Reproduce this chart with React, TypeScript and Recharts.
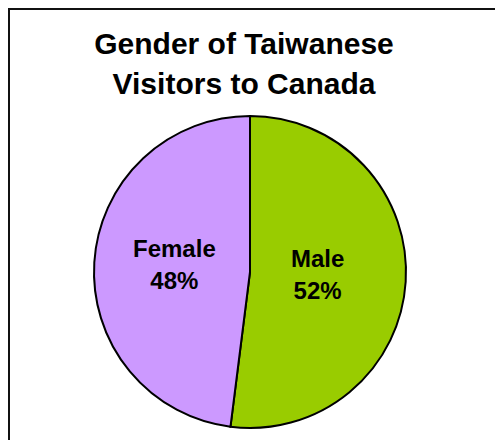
import React from "react";
import { PieChart, Pie, Cell } from "recharts";

const titleLines = ["Gender of Taiwanese", "Visitors to Canada"];
const categories = ["Male", "Female"];
const shares = [52, 48];
const colors = ["#99CC00", "#CC99FF"];

const data = categories.map((name, i) => ({ name, value: shares[i] }));

const RAD = Math.PI / 180;
const FONT = "'Liberation Sans', Arial, sans-serif";

const renderLabel = (props: any) => {
  const { cx, cy, midAngle, outerRadius, name, percent } = props;
  const r = outerRadius * 0.46;
  const x = cx + r * Math.cos(-midAngle * RAD) - 4;
  const y = cy + r * Math.sin(-midAngle * RAD) - 2;
  return (
    <text
      x={x}
      y={y}
      textAnchor="middle"
      fill="#000"
      fontFamily={FONT}
      fontWeight="bold"
      fontSize={24}
    >
      <tspan x={x} y={y - 8}>{name}</tspan>
      <tspan x={x} y={y + 24}>{`${Math.round(percent * 100)}%`}</tspan>
    </text>
  );
};

export default function App() {
  return (
    <div
      style={{
        width: 520,
        height: 460,
        borderLeft: "2px solid #111",
        borderTop: "2px solid #111",
        boxSizing: "border-box",
        background: "#fff",
      }}
    >
      <PieChart width={510} height={450} margin={{ top: 0, right: 0, bottom: 0, left: 0 }}>
        <text
          x={234}
          textAnchor="middle"
          fontFamily={FONT}
          fontWeight="bold"
          fontSize={30}
          fill="#000"
        >
          <tspan x={234} y={44}>{titleLines[0]}</tspan>
          <tspan x={234} y={84}>{titleLines[1]}</tspan>
        </text>
        <Pie
          data={data}
          dataKey="value"
          nameKey="name"
          cx={240}
          cy={262}
          outerRadius={156}
          startAngle={90}
          endAngle={-270}
          stroke="#000"
          strokeWidth={2}
          labelLine={false}
          label={renderLabel}
          isAnimationActive={false}
        >
          {data.map((d, i) => (
            <Cell key={d.name} fill={colors[i]} />
          ))}
        </Pie>
      </PieChart>
    </div>
  );
}
